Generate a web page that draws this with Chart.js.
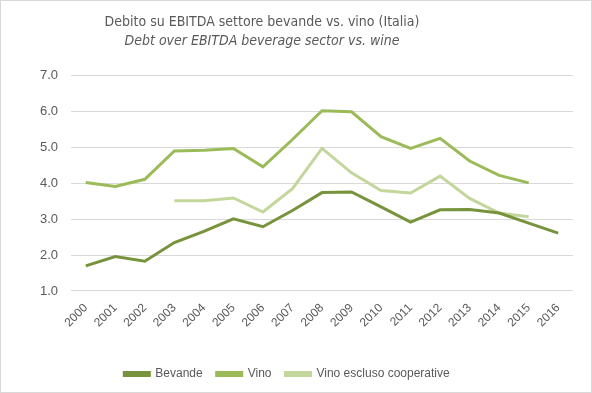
<!DOCTYPE html>
<html>
<head>
<meta charset="utf-8">
<script src="https://cdn.jsdelivr.net/npm/chart.js@4"></script>
<style>
  html, body { margin: 0; padding: 0; background: #fff; }
  #wrap { position: relative; width: 590px; height: 391px; border: 1px solid #d9d9d9; }
</style>
</head>
<body>
<div id="wrap"><canvas id="lineChart" width="590" height="391"></canvas></div>
<script>
'use strict'

var years = ['2000','2001','2002','2003','2004','2005','2006','2007','2008',
             '2009','2010','2011','2012','2013','2014','2015','2016'];
var bevande = [1.70, 1.96, 1.83, 2.35, 2.66, 3.01, 2.79, 3.24, 3.74,
               3.76, 3.34, 2.92, 3.26, 3.27, 3.17, 2.89, 2.61];
var vino = [4.02, 3.91, 4.11, 4.90, 4.92, 4.97, 4.46, 5.22, 6.02,
            5.99, 5.30, 4.97, 5.25, 4.62, 4.22, 4.01, null];
var vinoEscluso = [null, null, null, 3.51, 3.51, 3.59, 3.20, 3.85, 4.97,
                   4.29, 3.80, 3.73, 4.20, 3.58, 3.17, 3.07, null];
var yTicks = [1, 2, 3, 4, 5, 6, 7];

var font = "'Liberation Sans', Arial, sans-serif";
var titleFont = "'DejaVu Sans Condensed', 'Liberation Sans Narrow', 'Liberation Sans', sans-serif";

// the titles sit a bit left of the centre in the original
var titleShift = {
  id: 'titleShift',
  afterLayout: function(c) {
    c.boxes.forEach(function(b) {
      if (b.position === 'top' && b.options && b.options.text !== undefined) {
        b.left -= 25;
        b.right -= 25;
      }
    });
  }
};

var chart = document.getElementById('lineChart');

let lineChart = new Chart(chart, {
  type: 'line',
  data: {
    labels: years,
    datasets: [{
      label: 'Bevande',
      data: bevande,
      borderColor: '#77933c',
      backgroundColor: '#77933c',
      borderWidth: 3
    }, {
      label: 'Vino',
      data: vino,
      borderColor: '#9bbb59',
      backgroundColor: '#9bbb59',
      borderWidth: 3
    }, {
      label: 'Vino escluso cooperative',
      data: vinoEscluso,
      borderColor: '#c3d69b',
      backgroundColor: '#c3d69b',
      borderWidth: 3
    }]
  },
  plugins: [titleShift],
  options: {
    responsive: false,
    animation: false,
    spanGaps: false,
    elements: {
      point: { radius: 0, hoverRadius: 0 },
      line: { tension: 0, borderCapStyle: 'butt', borderJoinStyle: 'miter' }
    },
    layout: { padding: { left: 0, right: 18, top: 0, bottom: 2 } },
    plugins: {
      title: {
        display: true,
        text: 'Debito su EBITDA settore bevande vs. vino (Italia)',
        color: '#595959',
        font: { family: titleFont, size: 14, weight: 'normal' },
        padding: { top: 13, bottom: 2 }
      },
      subtitle: {
        display: true,
        text: 'Debt over EBITDA beverage sector vs. wine',
        color: '#595959',
        font: { family: titleFont, size: 14, style: 'italic', weight: 'normal' },
        padding: { top: 0, bottom: 26 }
      },
      legend: {
        position: 'bottom',
        labels: {
          color: '#595959',
          font: { family: font, size: 12 },
          boxWidth: 25,
          boxHeight: 3,
          padding: 14
        }
      },
      tooltip: { enabled: false }
    },
    scales: {
      x: {
        offset: true,
        grid: { display: false },
        border: { display: false },
        afterFit: function(axis) { axis.height = axis.height + 22; },
        ticks: {
          color: '#595959',
          font: { family: font, size: 12 },
          minRotation: 45,
          maxRotation: 45,
          autoSkip: false,
          padding: 2
        }
      },
      y: {
        min: 1,
        max: 7,
        afterBuildTicks: function(axis) {
          axis.ticks = yTicks.map(function(v) { return { value: v }; });
        },
        afterFit: function(axis) { axis.width = 70; },
        grid: { color: '#d9d9d9', lineWidth: 1, drawTicks: false },
        border: { display: false },
        ticks: {
          color: '#595959',
          font: { family: font, size: 13 },
          padding: 13,
          callback: function(v) { return v.toFixed(1); }
        }
      }
    }
  }
});
</script>
</body>
</html>
